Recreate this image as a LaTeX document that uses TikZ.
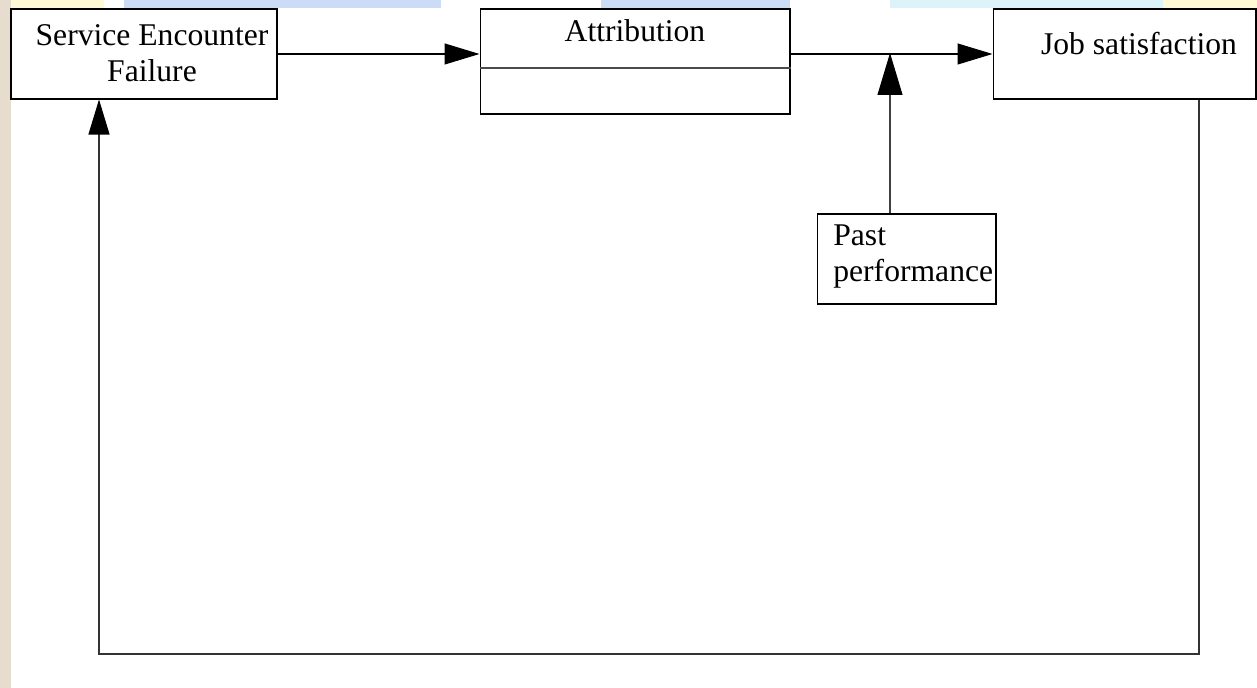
\documentclass[tikz,border=0pt]{standalone}
\usepackage{fontspec}
\setmainfont{Liberation Serif}
\usetikzlibrary{positioning,arrows.meta}
\definecolor{paper}{HTML}{E6DDCF}
\definecolor{bandblue}{HTML}{CCDCF7}
\definecolor{bandcyan}{HTML}{DDF3FA}
\definecolor{bandyel}{HTML}{FFF9D6}

\begin{document}
\begin{tikzpicture}[
  x=0.02cm, y=-0.02cm,
  bx/.style={draw=black, line width=0.6pt, rectangle, inner sep=0pt},
  lbl/.style={font=\fontsize{18}{20.5}\selectfont, inner sep=0pt},
  ln/.style={line width=0.6pt},
  tri/.style={-{Triangle[length=0.7cm, width=0.42cm, black]}},
  bigtri/.style={-{Triangle[length=0.84cm, width=0.5cm, black]}},
]
\useasboundingbox (0,0) rectangle (1257,688);
% ---- backdrop: left paper strip, top colour band ----
\fill[paper] (0,0) rectangle (11,688);
\fill[bandyel] (11,0) rectangle (104,8);
\fill[bandblue] (124,0) rectangle (441,8);
\fill[bandblue] (601,0) rectangle (790,8);
\fill[bandcyan] (890,0) rectangle (1163,8);
\fill[bandyel] (1163,0) rectangle (1257,8);

% ---- boxes ----
\node[bx, minimum width=5.32cm, minimum height=1.8cm] (sef) at (144,54) {};
\node[lbl, anchor=base, align=center] (seftxt) at (152,82) {Service Encounter\\ Failure};
\node[bx, minimum width=6.2cm, minimum height=2.1cm] (attr) at (635,61.5) {};
\node[lbl, anchor=base] (attrtxt) at (635,42) {Attribution};
\draw[ln, black!70] (attr.west |- 0,68) -- (attr.east |- 0,68);
\node[bx, minimum width=5.26cm, minimum height=1.8cm] (job) at (1124.5,54) {};
\node[lbl, anchor=base] (jobtxt) at (1139,55) {Job satisfaction};
\node[bx, minimum width=3.58cm, minimum height=1.8cm] (past) at (906.5,259) {};
\node[lbl, anchor=base west, align=left] (pasttxt) at (833,282) {Past\\ performance};

% ---- arrows ----
\coordinate (meet) at (890,53);
\coordinate (fbR) at (1199,654);
\coordinate (fbL) at (99,654);
\draw[ln, tri] (sef.east) -- (sef.east -| attr.west);
\draw[ln, tri] (attr.east |- sef.east) -- (job.west);
\draw[ln, black!75, bigtri] (past.north -| meet) -- (meet);
\draw[ln, black!80, tri] (job.south -| fbR) -- (fbR) -- (fbL) -- (sef.south -| fbL);
\end{tikzpicture}
\end{document}
